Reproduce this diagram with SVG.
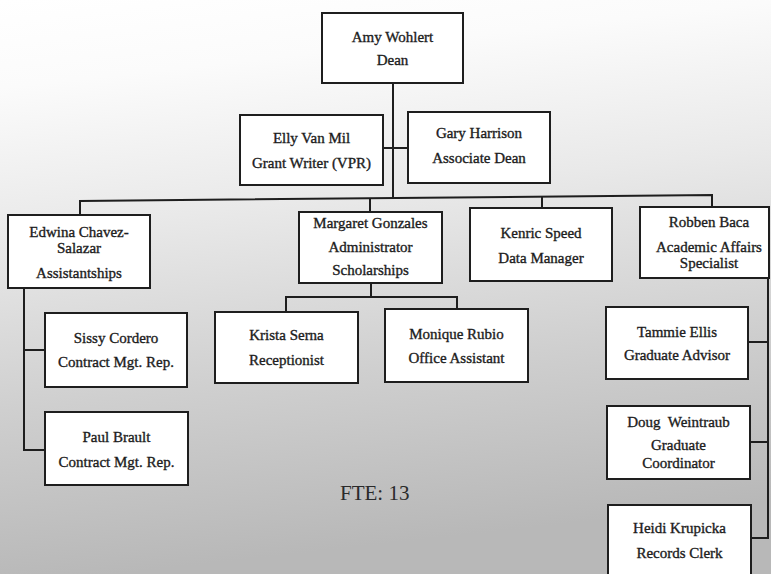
<svg xmlns="http://www.w3.org/2000/svg" width="771" height="574" viewBox="0 0 771 574">
<defs>
<linearGradient id="bg" x1="0" y1="0" x2="0.15" y2="1">
<stop offset="0" stop-color="#ffffff"/>
<stop offset="0.15" stop-color="#fbfbfb"/>
<stop offset="0.4" stop-color="#e9e9e9"/>
<stop offset="0.7" stop-color="#cfcfcf"/>
<stop offset="1" stop-color="#b8b8b8"/>
</linearGradient>
<style>
.box{fill:#ffffff;stroke:#1e1e1e;stroke-width:2}
.t{font-family:"Liberation Serif","DejaVu Serif",serif;font-size:15px;fill:#1c1c1c;stroke:#1c1c1c;stroke-width:0.35;text-anchor:middle}
.c{fill:none;stroke:#1e1e1e;stroke-width:2}
.fte{font-family:"Liberation Serif","DejaVu Serif",serif;font-size:21px;fill:#2a2a2a}
</style>
</defs>
<rect x="0" y="0" width="771" height="574" fill="url(#bg)"/>
<g id="connectors">
<path class="c" d="M393,83 V198"/>
<path class="c" d="M383,148 H408"/>
<path class="c" d="M80,215 V201 L712,195 V207"/>
<path class="c" d="M370,199 V212"/>
<path class="c" d="M542,196 V208"/>
<path class="c" d="M24,288 V450 H45 M24,350 H45"/>
<path class="c" d="M371,283 V297 M286,312 V297 H457 V309"/>
<path class="c" d="M768,278 V538 H751 M748,342 H768 M750,442 H768"/>
</g>
<g id="amy"><rect class="box" x="322" y="13" width="141" height="70"/><text class="t" x="392.5" y="42">Amy Wohlert</text><text class="t" x="392.5" y="65">Dean</text></g>
<g id="elly"><rect class="box" x="240" y="115" width="143" height="70"/><text class="t" x="311.5" y="143">Elly Van Mil</text><text class="t" x="311.5" y="168">Grant Writer (VPR)</text></g>
<g id="gary"><rect class="box" x="408" y="112" width="142" height="71"/><text class="t" x="479" y="138">Gary Harrison</text><text class="t" x="479" y="163">Associate Dean</text></g>
<g id="edwina"><rect class="box" x="8" y="215" width="142" height="73"/><text class="t" x="79" y="237">Edwina Chavez-</text><text class="t" x="79" y="253">Salazar</text><text class="t" x="79" y="278">Assistantships</text></g>
<g id="margaret"><rect class="box" x="299" y="212" width="143" height="71"/><text class="t" x="370.5" y="228">Margaret Gonzales</text><text class="t" x="370.5" y="252">Administrator</text><text class="t" x="370.5" y="275">Scholarships</text></g>
<g id="kenric"><rect class="box" x="470" y="208" width="142" height="73"/><text class="t" x="541" y="238">Kenric Speed</text><text class="t" x="541" y="263">Data Manager</text></g>
<g id="robben"><rect class="box" x="640" y="207" width="129" height="71"/><text class="t" x="709" y="227">Robben Baca</text><text class="t" x="709" y="252">Academic Affairs</text><text class="t" x="709" y="268">Specialist</text></g>
<g id="sissy"><rect class="box" x="45" y="313" width="142" height="74"/><text class="t" x="116" y="343">Sissy Cordero</text><text class="t" x="116" y="367">Contract Mgt. Rep.</text></g>
<g id="paul"><rect class="box" x="45" y="412" width="143" height="73"/><text class="t" x="116.5" y="442">Paul Brault</text><text class="t" x="116.5" y="467">Contract Mgt. Rep.</text></g>
<g id="krista"><rect class="box" x="215" y="312" width="143" height="71"/><text class="t" x="286.5" y="340">Krista Serna</text><text class="t" x="286.5" y="365">Receptionist</text></g>
<g id="monique"><rect class="box" x="385" y="309" width="143" height="73"/><text class="t" x="456.5" y="339">Monique Rubio</text><text class="t" x="456.5" y="363">Office Assistant</text></g>
<g id="tammie"><rect class="box" x="606" y="307" width="142" height="72"/><text class="t" x="677" y="337">Tammie Ellis</text><text class="t" x="677" y="360">Graduate Advisor</text></g>
<g id="doug"><rect class="box" x="607" y="406" width="143" height="73"/><text class="t" x="678.5" y="427" xml:space="preserve">Doug  Weintraub</text><text class="t" x="678.5" y="450">Graduate</text><text class="t" x="678.5" y="468">Coordinator</text></g>
<g id="heidi"><rect class="box" x="608" y="505" width="143" height="72"/><text class="t" x="679.5" y="533">Heidi Krupicka</text><text class="t" x="679.5" y="558">Records Clerk</text></g>
<text class="fte" x="340" y="500">FTE: 13</text>
</svg>
